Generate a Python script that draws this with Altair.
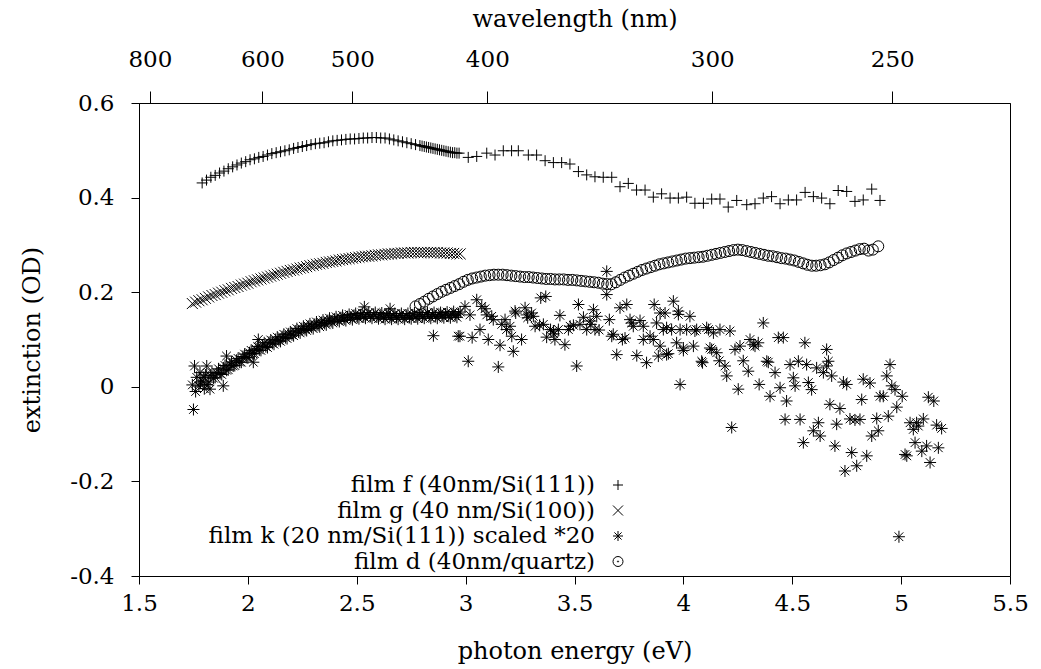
import altair as alt
import pandas as pd

# ---------------- data ----------------
series_names = [
    "film f (40nm/Si(111))",
    "film g (40 nm/Si(100))",
    "film k (20 nm/Si(111)) scaled *20",
    "film d (40nm/quartz)",
]

f_e = [1.790, 1.810, 1.830, 1.850, 1.870, 1.890, 1.910, 1.930, 1.950, 1.970,
       1.990, 2.010, 2.030, 2.050, 2.070, 2.090, 2.110, 2.130, 2.150, 2.170,
       2.190, 2.210, 2.230, 2.250, 2.270, 2.290, 2.310, 2.330, 2.350, 2.370,
       2.390, 2.410, 2.430, 2.450, 2.470, 2.490, 2.510, 2.530, 2.550, 2.570,
       2.590, 2.610, 2.630, 2.650, 2.670, 2.690, 2.710, 2.730, 2.750, 2.770,
       2.790, 2.800, 2.810, 2.820, 2.830, 2.840, 2.850, 2.860, 2.870, 2.880,
       2.890, 2.900, 2.910, 2.920, 2.930, 2.940, 2.950, 2.960, 2.970,
       3.012, 3.051, 3.097, 3.135, 3.173, 3.211, 3.242, 3.288, 3.326, 3.365,
       3.403, 3.441, 3.479, 3.518, 3.556, 3.594, 3.632, 3.671, 3.709, 3.747,
       3.785, 3.824, 3.862, 3.900, 3.939, 3.977, 4.015, 4.053, 4.092, 4.130,
       4.168, 4.206, 4.245, 4.291, 4.329, 4.367, 4.405, 4.444, 4.482, 4.520,
       4.559, 4.597, 4.635, 4.673, 4.711, 4.750, 4.788, 4.826, 4.865, 4.903]
f_y = [0.431, 0.437, 0.443, 0.447, 0.452, 0.456, 0.461, 0.465, 0.469, 0.473,
       0.476, 0.480, 0.482, 0.485, 0.487, 0.490, 0.493, 0.495, 0.497, 0.499,
       0.501, 0.504, 0.506, 0.508, 0.510, 0.512, 0.514, 0.515, 0.516, 0.518,
       0.520, 0.521, 0.522, 0.523, 0.524, 0.524, 0.525, 0.526, 0.526, 0.527,
       0.527, 0.526, 0.526, 0.524, 0.522, 0.520, 0.518, 0.516, 0.514, 0.512,
       0.510, 0.509, 0.508, 0.507, 0.506, 0.505, 0.504, 0.503, 0.502, 0.501,
       0.500, 0.499, 0.498, 0.497, 0.496, 0.495, 0.495, 0.494, 0.494,
       0.485, 0.487, 0.494, 0.490, 0.499, 0.499, 0.499, 0.490, 0.490, 0.478,
       0.474, 0.474, 0.471, 0.455, 0.448, 0.444, 0.443, 0.443, 0.423, 0.430,
       0.416, 0.416, 0.401, 0.408, 0.399, 0.399, 0.401, 0.388, 0.388, 0.397,
       0.397, 0.380, 0.394, 0.385, 0.387, 0.399, 0.402, 0.387, 0.395, 0.395,
       0.411, 0.402, 0.399, 0.387, 0.415, 0.413, 0.392, 0.395, 0.418, 0.394]

g_e = [1.745, 1.760, 1.775, 1.790, 1.805, 1.820, 1.835, 1.850, 1.865, 1.880,
       1.895, 1.910, 1.925, 1.940, 1.955, 1.970, 1.985, 2.000, 2.015, 2.030,
       2.045, 2.060, 2.075, 2.090, 2.105, 2.120, 2.135, 2.150, 2.165, 2.180,
       2.195, 2.210, 2.225, 2.240, 2.255, 2.270, 2.285, 2.300, 2.315, 2.330,
       2.345, 2.360, 2.375, 2.390, 2.405, 2.420, 2.435, 2.450, 2.465, 2.480,
       2.495, 2.510, 2.525, 2.540, 2.555, 2.570, 2.585, 2.600, 2.615, 2.630,
       2.645, 2.660, 2.675, 2.690, 2.705, 2.720, 2.735, 2.750, 2.765, 2.780,
       2.795, 2.810, 2.825, 2.840, 2.855, 2.870, 2.885, 2.900, 2.915, 2.930,
       2.945, 2.960, 2.975]
g_y = [0.176, 0.179, 0.182, 0.184, 0.187, 0.190, 0.193, 0.195, 0.198, 0.200,
       0.203, 0.205, 0.208, 0.210, 0.212, 0.215, 0.217, 0.219, 0.222, 0.224,
       0.226, 0.228, 0.230, 0.232, 0.234, 0.236, 0.238, 0.240, 0.242, 0.244,
       0.246, 0.247, 0.249, 0.251, 0.252, 0.254, 0.256, 0.257, 0.259, 0.260,
       0.261, 0.263, 0.264, 0.265, 0.266, 0.268, 0.269, 0.270, 0.271, 0.272,
       0.273, 0.274, 0.275, 0.276, 0.276, 0.277, 0.278, 0.279, 0.279, 0.280,
       0.281, 0.281, 0.282, 0.282, 0.283, 0.283, 0.283, 0.284, 0.284, 0.284,
       0.284, 0.284, 0.284, 0.284, 0.284, 0.284, 0.283, 0.283, 0.283, 0.282,
       0.282, 0.281, 0.281]

# film k: dense part (1.74-2.98 eV)
k1_e = [1.745, 1.750, 1.755, 1.760, 1.765, 1.775, 1.780, 1.790, 1.800, 1.805,
        1.811, 1.820, 1.826, 1.835, 1.850, 1.865, 1.880, 1.887, 1.895, 1.902,
        1.910, 1.925, 1.940, 1.955, 1.970, 1.985, 2.000, 2.015, 2.025, 2.030,
        2.045, 2.048, 2.060, 2.075, 2.090, 2.105, 2.120, 2.135, 2.150, 2.165,
        2.180, 2.195, 2.210, 2.225, 2.240, 2.255, 2.270, 2.285, 2.300, 2.315,
        2.330, 2.345, 2.360, 2.375, 2.390, 2.405, 2.420, 2.435, 2.450, 2.465,
        2.480, 2.495, 2.510, 2.525, 2.535, 2.540, 2.555, 2.570, 2.585, 2.600,
        2.615, 2.630, 2.645, 2.653, 2.660, 2.675, 2.690, 2.705, 2.720, 2.735,
        2.750, 2.765, 2.780, 2.795, 2.810, 2.825, 2.840, 2.852, 2.855, 2.870,
        2.885, 2.900, 2.915, 2.930, 2.945, 2.960, 2.966, 2.975]
k1_y = [0.004, -0.048, 0.044, -0.010, 0.020, 0.002, 0.030, 0.012, -0.004, 0.025,
        0.044, 0.010, -0.005, 0.030, 0.020, 0.038, 0.026, 0.002, 0.045, 0.065,
        0.036, 0.052, 0.045, 0.060, 0.052, 0.069, 0.061, 0.077, 0.052, 0.070,
        0.085, 0.100, 0.077, 0.093, 0.083, 0.099, 0.090, 0.105, 0.096, 0.111,
        0.102, 0.116, 0.108, 0.123, 0.114, 0.128, 0.119, 0.133, 0.123, 0.137,
        0.127, 0.141, 0.131, 0.145, 0.135, 0.148, 0.138, 0.151, 0.140, 0.153,
        0.142, 0.155, 0.144, 0.156, 0.169, 0.145, 0.157, 0.145, 0.157, 0.144,
        0.156, 0.143, 0.155, 0.165, 0.143, 0.155, 0.143, 0.155, 0.143, 0.155,
        0.144, 0.156, 0.144, 0.157, 0.145, 0.157, 0.145, 0.108, 0.157, 0.145,
        0.157, 0.146, 0.158, 0.146, 0.159, 0.147, 0.107, 0.158]
k2_e = [1.7825, 1.7975, 1.8125, 1.8275, 1.8425, 1.8575, 1.8725, 1.8875, 1.9025, 1.9175,
        1.9325, 1.9475, 1.9625, 1.9775, 1.9925, 2.0075, 2.0225, 2.0375, 2.0525, 2.0675,
        2.0825, 2.0975, 2.1125, 2.1275, 2.1425, 2.1575, 2.1725, 2.1875, 2.2025, 2.2175,
        2.2325, 2.2475, 2.2625, 2.2775, 2.2925, 2.3075, 2.3225, 2.3375, 2.3525, 2.3675,
        2.3825, 2.3975, 2.4125, 2.4275, 2.4425, 2.4575, 2.4725, 2.4875, 2.5025, 2.5175,
        2.5325, 2.5475, 2.5625, 2.5775, 2.5925, 2.6075, 2.6225, 2.6375, 2.6525, 2.6675,
        2.6825, 2.6975, 2.7125, 2.7275, 2.7425, 2.7575, 2.7725, 2.7875, 2.8025, 2.8175,
        2.8325, 2.8475, 2.8625, 2.8775, 2.8925, 2.9075, 2.9225, 2.9375, 2.9525, 2.9675]
k2_y = [0.008, 0.020, 0.005, 0.024, 0.018, 0.030, 0.028, 0.040, 0.035, 0.048,
        0.044, 0.056, 0.052, 0.064, 0.062, 0.072, 0.070, 0.080, 0.078, 0.088,
        0.085, 0.094, 0.092, 0.100, 0.098, 0.106, 0.104, 0.112, 0.110, 0.118,
        0.116, 0.123, 0.121, 0.128, 0.126, 0.132, 0.130, 0.136, 0.134, 0.140,
        0.138, 0.143, 0.141, 0.146, 0.143, 0.148, 0.146, 0.151, 0.147, 0.152,
        0.148, 0.153, 0.149, 0.153, 0.148, 0.152, 0.147, 0.152, 0.147, 0.151,
        0.147, 0.151, 0.147, 0.151, 0.147, 0.152, 0.148, 0.152, 0.148, 0.153,
        0.149, 0.153, 0.149, 0.153, 0.150, 0.154, 0.150, 0.154, 0.151, 0.154]
# film k: scattered part (2.97-5.2 eV)
k3_e = [2.974, 2.997, 3.012, 3.020, 3.030, 3.051, 3.066, 3.074, 3.089, 3.097,
        3.104, 3.120, 3.127, 3.150, 3.158, 3.166, 3.181, 3.188, 3.204, 3.212,
        3.219, 3.227, 3.230, 3.257, 3.273, 3.280, 3.285, 3.303, 3.311, 3.319,
        3.340, 3.345, 3.357, 3.368, 3.372, 3.390, 3.403, 3.405, 3.410, 3.426,
        3.433, 3.456, 3.472, 3.480, 3.495, 3.510, 3.518, 3.525, 3.541, 3.556,
        3.571, 3.575, 3.587, 3.594, 3.602, 3.613, 3.648, 3.648, 3.660, 3.671,
        3.678, 3.694, 3.709, 3.720, 3.732, 3.740, 3.755, 3.763, 3.770, 3.786,
        3.801, 3.816, 3.816, 3.831, 3.847, 3.862, 3.866, 3.877, 3.885, 3.893,
        3.893, 3.908, 3.916, 3.923, 3.923, 3.931, 3.946, 3.954, 3.969, 3.977,
        3.977, 3.985, 3.985, 4.000, 4.000, 4.015, 4.030, 4.046, 4.053, 4.061,
        4.084, 4.088, 4.107, 4.115, 4.122, 4.130, 4.138, 4.153, 4.165, 4.168,
        4.191, 4.199, 4.214, 4.222, 4.237, 4.252, 4.260, 4.275, 4.298, 4.306,
        4.321, 4.329, 4.344, 4.348, 4.367, 4.383, 4.390, 4.398, 4.421, 4.436,
        4.444, 4.459, 4.467, 4.474, 4.490, 4.505, 4.513, 4.528, 4.536, 4.551,
        4.558, 4.566, 4.574, 4.589, 4.597, 4.612, 4.620, 4.628, 4.643, 4.658,
        4.658, 4.666, 4.673, 4.681, 4.696, 4.704, 4.719, 4.735, 4.742, 4.750,
        4.765, 4.773, 4.788, 4.796, 4.811, 4.819, 4.826, 4.842, 4.857, 4.865,
        4.888, 4.895, 4.903, 4.918, 4.934, 4.941, 4.949, 4.957, 4.972, 4.980,
        4.990, 5.005, 5.018, 5.026, 5.041, 5.056, 5.064, 5.071, 5.079, 5.095,
        5.102, 5.117, 5.125, 5.133, 5.150, 5.163, 5.171, 5.186]
k3_y = [0.107, 0.170, 0.054, 0.152, 0.104, 0.184, 0.121, 0.170, 0.165, 0.152,
        0.100, 0.149, 0.142, 0.042, 0.088, 0.132, 0.142, 0.121, 0.128, 0.107,
        0.075, 0.160, 0.156, 0.100, 0.167, 0.152, 0.146, 0.156, 0.149, 0.128,
        0.130, 0.188, 0.132, 0.191, 0.105, 0.121, 0.118, 0.112, 0.100, 0.121,
        0.151, 0.089, 0.121, 0.128, 0.130, 0.044, 0.174, 0.132, 0.147, 0.121,
        0.139, 0.132, 0.163, 0.121, 0.149, 0.120, 0.244, 0.195, 0.142, 0.107,
        0.111, 0.068, 0.167, 0.100, 0.103, 0.174, 0.142, 0.135, 0.128, 0.066,
        0.140, 0.100, 0.128, 0.051, 0.107, 0.100, 0.174, 0.135, 0.065, 0.156,
        0.086, 0.121, 0.156, 0.068, 0.125, 0.070, 0.121, 0.181, 0.093, 0.153,
        0.160, 0.005, 0.121, 0.077, 0.082, 0.121, 0.149, 0.086, 0.118, 0.121,
        0.054, 0.051, 0.125, 0.121, 0.082, 0.079, 0.114, 0.072, 0.055, 0.121,
        0.044, 0.023, 0.118, -0.086, 0.079, -0.005, 0.086, 0.055, 0.033, 0.100,
        0.089, 0.086, 0.093, 0.005, 0.135, 0.054, 0.052, -0.020, 0.030, 0.104,
        -0.002, 0.104, -0.069, -0.030, 0.047, 0.019, 0.002, 0.054, -0.069, -0.118,
        0.093, 0.047, 0.009, -0.006, -0.093, 0.040, -0.076, -0.104, 0.030, 0.079,
        0.044, 0.054, -0.037, 0.023, -0.125, -0.079, -0.046, 0.010, -0.178, 0.005,
        -0.068, -0.139, -0.070, -0.167, -0.069, -0.027, 0.016, -0.146, 0.008, -0.104,
        -0.067, -0.093, -0.020, -0.020, 0.023, -0.062, 0.047, 0.002, -0.006, -0.043,
        -0.317, -0.020, -0.143, -0.146, -0.076, -0.090, -0.118, -0.076, -0.083, -0.136,
        -0.068, -0.125, -0.022, -0.160, -0.030, -0.081, -0.129, -0.088]

d_e = [2.770, 2.790, 2.810, 2.830, 2.850, 2.870, 2.890, 2.910, 2.930, 2.950,
       2.970, 2.990, 3.010, 3.030, 3.050, 3.070, 3.090, 3.110, 3.130, 3.150,
       3.170, 3.190, 3.210, 3.230, 3.250, 3.270, 3.290, 3.310, 3.330, 3.350,
       3.370, 3.390, 3.410, 3.430, 3.450, 3.470, 3.490, 3.510, 3.530, 3.550,
       3.570, 3.590, 3.610, 3.630, 3.650, 3.670, 3.690, 3.710, 3.730, 3.750,
       3.770, 3.790, 3.810, 3.830, 3.850, 3.870, 3.890, 3.910, 3.930, 3.950,
       3.970, 3.990, 4.010, 4.030, 4.050, 4.070, 4.090, 4.110, 4.130, 4.150,
       4.170, 4.190, 4.210, 4.230, 4.250, 4.270, 4.290, 4.310, 4.330, 4.350,
       4.370, 4.390, 4.410, 4.430, 4.450, 4.470, 4.490, 4.510, 4.530, 4.550,
       4.570, 4.590, 4.610, 4.630, 4.650, 4.670, 4.690, 4.710, 4.730, 4.750,
       4.770, 4.790, 4.810, 4.830, 4.850, 4.870, 4.895]
d_y = [0.170, 0.175, 0.180, 0.186, 0.191, 0.196, 0.201, 0.205, 0.209, 0.213,
       0.217, 0.222, 0.226, 0.229, 0.231, 0.233, 0.235, 0.236, 0.237, 0.237,
       0.237, 0.236, 0.235, 0.234, 0.233, 0.232, 0.232, 0.231, 0.230, 0.229,
       0.228, 0.228, 0.227, 0.227, 0.227, 0.226, 0.226, 0.225, 0.224, 0.223,
       0.222, 0.221, 0.220, 0.218, 0.217, 0.217, 0.221, 0.226, 0.231, 0.235,
       0.239, 0.243, 0.247, 0.250, 0.253, 0.256, 0.259, 0.261, 0.263, 0.265,
       0.267, 0.269, 0.271, 0.272, 0.273, 0.274, 0.275, 0.277, 0.279, 0.281,
       0.283, 0.285, 0.287, 0.289, 0.290, 0.289, 0.287, 0.285, 0.283, 0.281,
       0.279, 0.277, 0.276, 0.274, 0.272, 0.271, 0.269, 0.267, 0.264, 0.261,
       0.258, 0.256, 0.256, 0.257, 0.259, 0.263, 0.268, 0.273, 0.278, 0.282,
       0.285, 0.288, 0.291, 0.292, 0.288, 0.290, 0.297]

x_ticks = [1.5, 2, 2.5, 3, 3.5, 4, 4.5, 5, 5.5]
y_ticks = [-0.4, -0.2, 0, 0.2, 0.4, 0.6]
wl_ticks = [800, 600, 500, 400, 300, 250]
HC = 1239.84  # eV*nm

# ---------------- styling ----------------
FONT = "DejaVu Serif"
FS = 23
FS_TITLE = 24
FS_LEG = 23
W, H = 871, 473
PAD_L, PAD_T = 139, 103

PLUS = "M-1,0L1,0M0,-1L0,1"
CROSS = "M-1,-1L1,1M-1,1L1,-1"
STAR = "M-1,0L1,0M0,-1L0,1M-0.72,-0.72L0.72,0.72M-0.72,0.72L0.72,-0.72"
CIRC = "circle"
CIRC_DOT = ("M1,0A1,1 0 1,1 -1,0A1,1 0 1,1 1,0Z"
            "M0.12,0A0.12,0.12 0 1,1 -0.12,0A0.12,0.12 0 1,1 0.12,0Z")

xs = alt.Scale(domain=[1.5, 5.5], nice=False, zero=False)
ys = alt.Scale(domain=[-0.4, 0.6], nice=False, zero=False)

x_axis = alt.Axis(orient="bottom", values=x_ticks, tickSize=8, labelPadding=8,
                  labelExpr="toString(round(datum.value*10)/10)",
                  title="photon energy (eV)", titlePadding=24)
y_axis = alt.Axis(orient="left", values=y_ticks, tickSize=8, labelPadding=17,
                  labelExpr="datum.value == 0 ? '0' : toString(round(datum.value*10)/10)",
                  title="extinction (OD)", titlePadding=25)
top_axis = alt.Axis(orient="top", values=[HC / w for w in wl_ticks], tickSize=12,
                    labelPadding=20, labelExpr="toString(round(1239.84/datum.value))",
                    title="wavelength (nm)", titlePadding=17)

series = [
    (pd.DataFrame({"e": f_e, "y": f_y}), PLUS, 121),
    (pd.DataFrame({"e": g_e, "y": g_y}), CROSS, 121),
    (pd.DataFrame({"e": k1_e + k2_e + k3_e, "y": k1_y + k2_y + k3_y}), STAR, 144),
    (pd.DataFrame({"e": d_e, "y": d_y}), CIRC, 121),
]

data_layers = []
for df, shp, sz in series:
    layer = alt.Chart(df).mark_point(
        shape=shp, filled=False, color="black", strokeWidth=1, size=sz, opacity=1
    ).encode(
        x=alt.X("e:Q", scale=xs, axis=x_axis),
        y=alt.Y("y:Q", scale=ys, axis=y_axis),
    )
    data_layers.append(layer)

# legend (gnuplot style, text right-aligned with the symbol to its right)
legend_shapes = [PLUS, CROSS, STAR, CIRC_DOT]
LEG_TEXT_X = 456
LEG_SYM_X = 479
LEG_Y0 = 382
LEG_DY = 25.5
legend_layers = []
for i, (name, shp) in enumerate(zip(series_names, legend_shapes)):
    yy = LEG_Y0 + i * LEG_DY
    legend_layers.append(
        alt.Chart(pd.DataFrame({"t": [name]})).mark_text(
            align="right", baseline="middle", font=FONT, fontSize=FS_LEG, color="black"
        ).encode(text="t:N", x=alt.value(LEG_TEXT_X), y=alt.value(yy))
    )
    legend_layers.append(
        alt.Chart(pd.DataFrame({"t": [name]})).mark_point(
            shape=shp, filled=False, color="black", strokeWidth=1, size=100, opacity=1
        ).encode(x=alt.value(LEG_SYM_X), y=alt.value(yy))
    )

main = alt.layer(*data_layers, *legend_layers)

top = alt.Chart(pd.DataFrame({"e": [HC / w for w in wl_ticks]})).mark_point(
    opacity=0
).encode(x=alt.X("e:Q", scale=xs, axis=top_axis))

chart = alt.layer(main, top).resolve_scale(x="independent").properties(
    width=W, height=H,
    padding={"left": PAD_L, "top": PAD_T, "right": 1041 - PAD_L - W, "bottom": 669 - PAD_T - H},
    autosize=alt.AutoSizeParams(type="none"),
    background="white",
).configure_view(
    stroke="black", strokeWidth=1
).configure_axis(
    labelFont=FONT, labelFontSize=FS, titleFont=FONT, titleFontSize=FS_TITLE,
    titleFontWeight="normal", labelColor="black", titleColor="black",
    tickColor="black", domainColor="black", grid=False, labelFlush=False,
    labelOverlap=False,
)

chart.save("out.html", embed_options={"renderer": "svg", "actions": False})
